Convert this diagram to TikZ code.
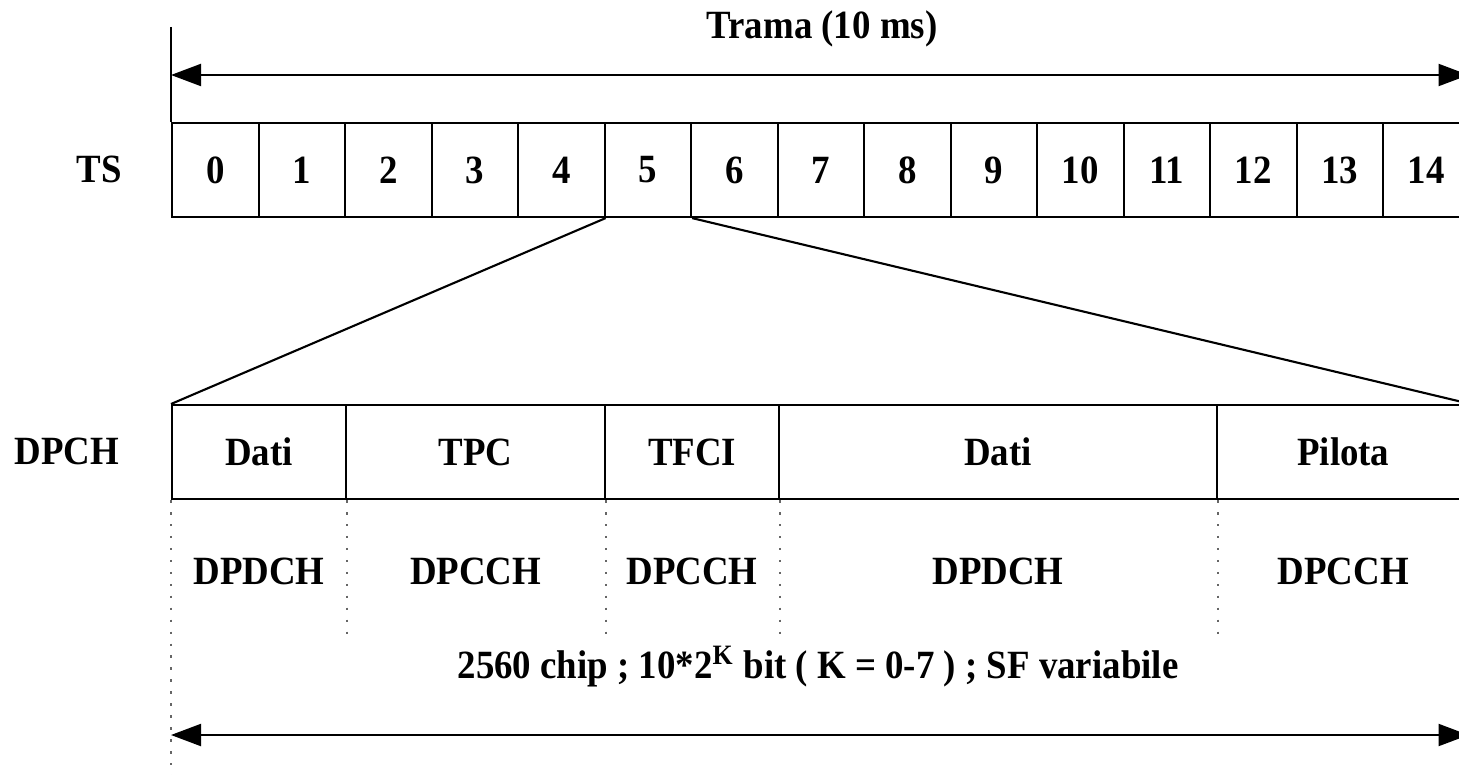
\documentclass[tikz,border=0pt]{standalone}
\usepackage{fontspec}
\setmainfont{Liberation Serif}[FakeStretch=0.92]
\usetikzlibrary{arrows.meta}
\newcommand{\larg}[0]{0.865}
\newcommand{\carattere}[0]{\bfseries\fontsize{11.4}{13}\selectfont}
\newcommand{\campo}[4]{\node[cella, minimum width=#3cm] (#1) at (#2,-4.04) {#4}}
\newcommand{\sotto}[2]{\path (#1.south) ++(0,-0.71) node[testo] {#2}}

\begin{document}
\begin{tikzpicture}[line width=0.6pt,
	cella/.style={draw, inner sep=0pt, minimum height=0.94cm, anchor=north west, font=\carattere},
	testo/.style={font=\carattere},
	punti/.style={draw=black!60, dash pattern=on 0.7pt off 2.7pt},
	freccia/.style={{Triangle[length=3mm,width=2.2mm]}-{Triangle[length=3mm,width=2.2mm]}}]
	\useasboundingbox (0,0) rectangle (14.59,-7.74);
%Trama
	\coordinate (t1) at (1.71,-0.27);
	\coordinate (t2) at (1.71,-1.22);
	\coordinate (f1) at (1.71,-0.75);
	\coordinate (f2) at (14.685,-0.75);
	\draw (t1) -- (t2);
	\draw[freccia] (f1) -- (f2);
	\node[testo] (trama) at (8.22,-0.29) {Trama (10 ms)};
%The time slots
	\node[testo] (ts) at (0.99,-1.69) {TS};
	\foreach \i in {0,...,14}
		\node[cella, minimum width=\larg cm] (ts\i) at (1.71+\i*\larg,-1.22) {\i};
%the slot fields
	\node[testo] (dpch) at (0.67,-4.51) {DPCH};
	\campo{c1}{1.71}{1.74}{Dati};
	\campo{c2}{3.45}{2.59}{TPC};
	\campo{c3}{6.04}{1.74}{TFCI};
	\campo{c4}{7.78}{4.38}{Dati};
	\campo{c5}{12.16}{2.525}{Pilota};
	\draw (ts4.south east) -- (c1.north west);
	\draw (ts5.south east) -- (c5.north east);
%Channels
	\draw[punti] (c1.south west) -- ++(0,-2.75);
	\foreach \c in {c1,c2,c3,c4}
		\draw[punti] (\c.south east) -- ++(0,-1.39);
	\sotto{c1}{DPDCH};
	\sotto{c2}{DPCCH};
	\sotto{c3}{DPCCH};
	\sotto{c4}{DPDCH};
	\sotto{c5}{DPCCH};
	\node[testo] (slot) at (8.18,-6.67) {2560 chip ; 10*2\textsuperscript{K} bit ( K = 0-7 ) ; SF variabile};
	\coordinate (b1) at (1.71,-7.35);
	\coordinate (b2) at (14.685,-7.35);
	\draw[freccia] (b1) -- (b2);
\end{tikzpicture}
\end{document}
